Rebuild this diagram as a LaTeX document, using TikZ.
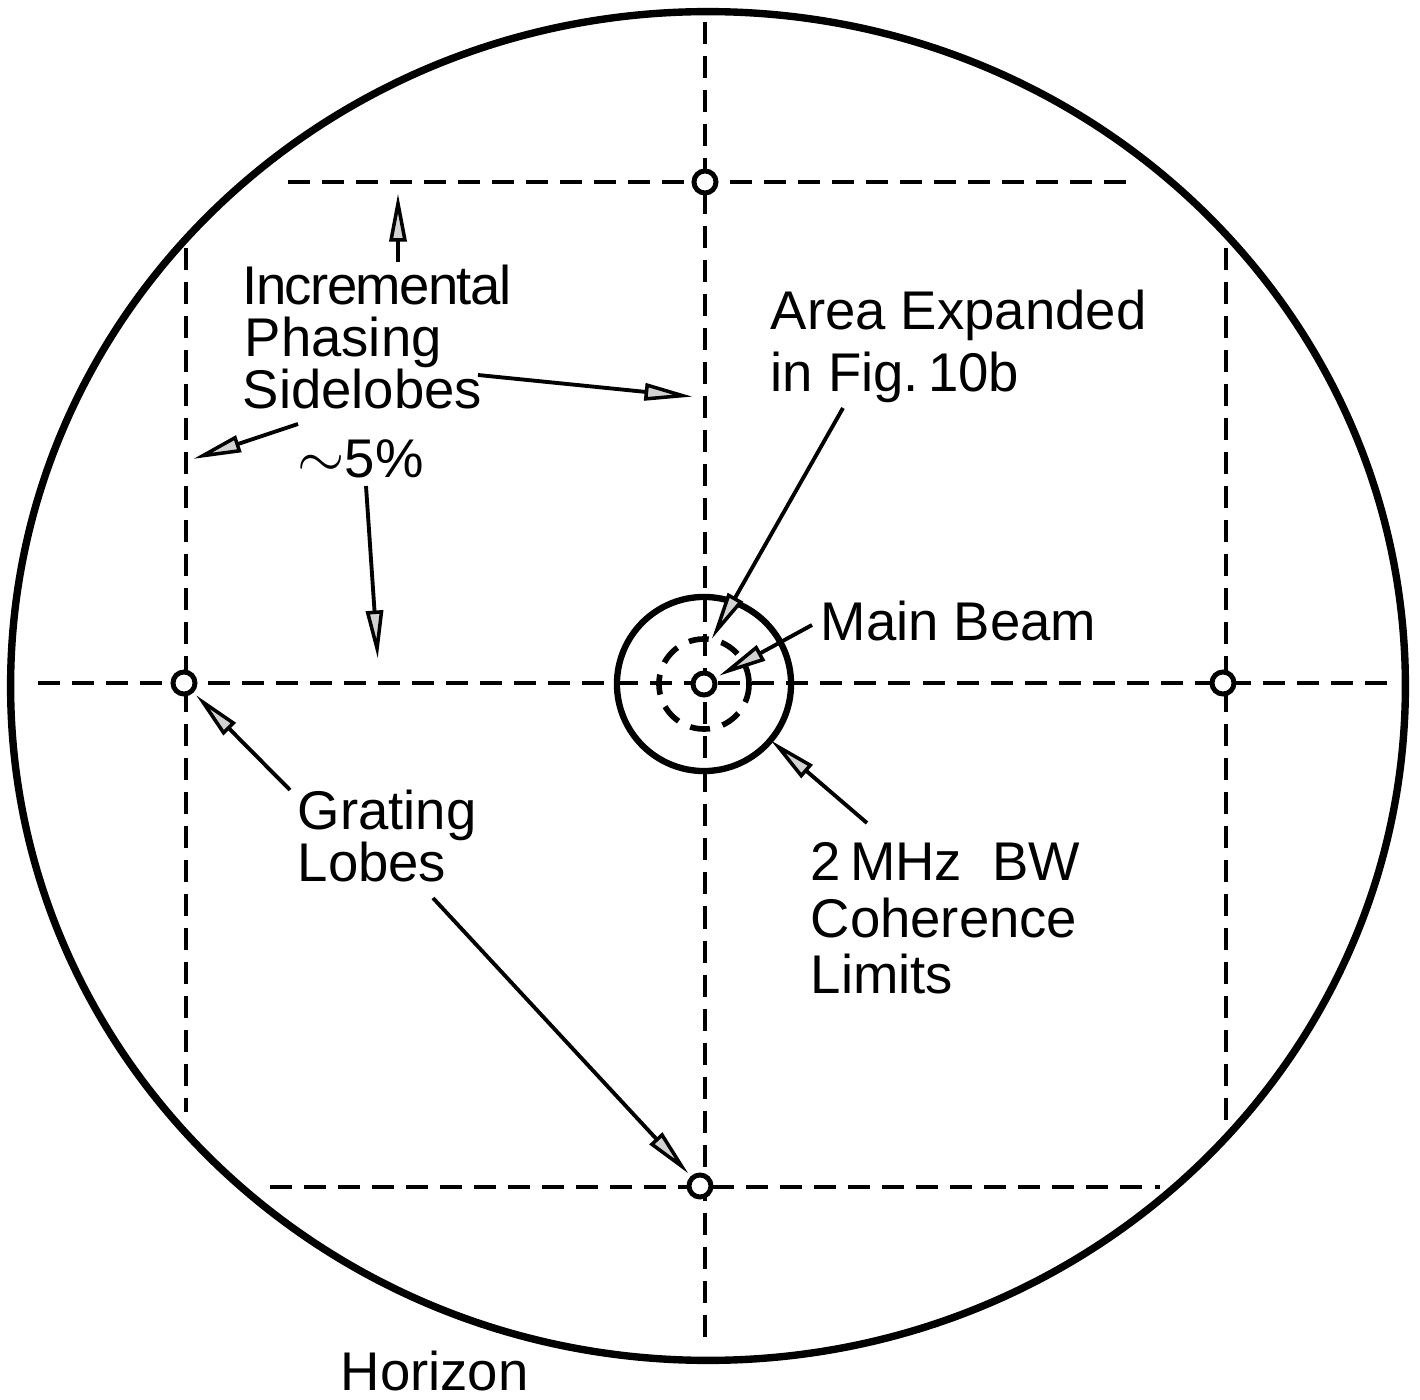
\documentclass[tikz,border=0pt]{standalone}
\usepackage{fontspec}
\setmainfont{Liberation Sans}
\usetikzlibrary{arrows.meta}
\begin{document}
\begin{tikzpicture}[x=0.01cm,y=-0.01cm,
  dline/.style={line width=1.3pt, dash pattern=on 0.22cm off 0.12cm},
  lbl/.style={font=\fontsize{15.5}{18}\selectfont, anchor=base west, inner sep=0pt},
  lobe/.style={circle, draw, line width=1.4pt, minimum size=0.22cm, inner sep=0pt, fill=white},
  arr/.style={line width=1.1pt, -{Triangle[length=0.48cm,width=0.17cm,fill=gray!35,line width=1pt]}, shorten >=1pt}
]
\useasboundingbox (0,0) rectangle (1420,1400);
% horizon
\draw[line width=2.1pt] (708,686) ellipse [x radius=6.97cm, y radius=6.74cm];
% grid of dashed lines
\draw[dline] (38,683) -- (1395,683);
\draw[dline] (705,22) -- (705,1342);
\draw[dline] (288,182) -- (1138,182);
\draw[dline] (270,1187) -- (1160,1187);
\draw[dline] (186,248) -- (186,1112);
\draw[dline] (1226,248) -- (1226,1120);
% coherence circles
\draw[line width=1.8pt] (704,684) circle [radius=0.87cm];
\draw[line width=1.6pt, dash pattern=on 0.2cm off 0.13cm] (704,684) circle [radius=0.45cm];
% lobes
\node[lobe] (mb) at (704,684) {};
\node[lobe] (gtop) at (705,182) {};
\node[lobe] (gleft) at (184,683) {};
\node[lobe] (gright) at (1223,683) {};
\node[lobe] (gbot) at (700,1186) {};
% labels
\node[lbl] (incr) at (242,305) {\addfontfeature{LetterSpace=-3}Incremental};
\node[lbl] (phas) at (244,357) {Phasing};
\node[lbl] (side) at (242,409) {Sidelobes};
\node[lbl] (pct) at (297,478) {\smash{\fontsize{19}{19}\selectfont$\sim$}5\%};
\node[lbl] (area) at (770,330) {Area Expanded};
\node[lbl] (fig) at (770,392) {in Fig.\,10b};
\node[lbl] (beam) at (820,640) {Main Beam};
\node[lbl] (grat) at (297,830) {Grating};
\node[lbl] (lobes) at (297,882) {Lobes};
\node[lbl] (bw) at (810,880) {2\,MHz\ \ BW};
\node[lbl] (coh) at (810,937) {Coherence};
\node[lbl] (lim) at (810,993) {Limits};
\node[lbl] (hor) at (340,1390) {Horizon};
% arrow endpoints
\coordinate (a1s) at (398,262); \coordinate (a1e) at (398,190);
\coordinate (a2s) at (478,375); \coordinate (a2e) at (696,397);
\coordinate (a3s) at (298,424); \coordinate (a3e) at (190,460);
\coordinate (a4s) at (366,486); \coordinate (a4e) at (378,662);
\coordinate (a5s) at (290,790);
\coordinate (a6s) at (433,898);
\coordinate (a7s) at (843,408); \coordinate (a7e) at (710,642);
\coordinate (a8s) at (812,625);
\coordinate (a9s) at (867,823); \coordinate (a9e) at (768,738);
% arrows
\draw[arr] (a1s) -- (a1e);
\draw[arr] (a2s) -- (a2e);
\draw[arr] (a3s) -- (a3e);
\draw[arr] (a4s) -- (a4e);
\draw[arr] (a5s) -- (gleft);
\draw[arr] (a6s) -- (gbot);
\draw[arr] (a7s) -- (a7e);
\draw[arr] (a8s) -- (mb);
\draw[arr] (a9s) -- (a9e);
\end{tikzpicture}
\end{document}
